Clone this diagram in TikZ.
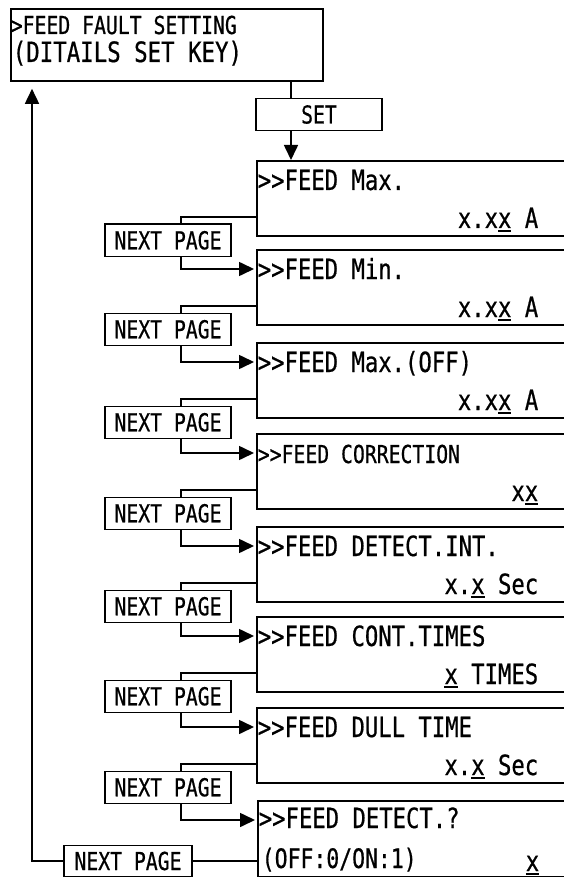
\documentclass[tikz,border=0pt]{standalone}
\usepackage{fontspec}
\newfontfamily\lcdfont[FakeStretch=0.8,FakeBold=0.6]{DejaVu Sans Mono}
\usetikzlibrary{arrows.meta,positioning,calc}
% underlined cursor digit
\newcommand\curs[1]{\setbox0\hbox{#1}\rlap{\rule[-4pt]{\wd0}{2pt}}\box0\relax}

\begin{document}
\begin{tikzpicture}[
  x=1pt,y=-1pt,
  line width=1.6pt,
  panel/.style={draw,line width=1.8pt,minimum width=312pt,minimum height=72pt,inner sep=0pt,anchor=north west},
  disp/.style={draw,line width=1.8pt,minimum width=330pt,minimum height=75pt,inner sep=0pt,anchor=north west},
  keybox/.style={draw,line width=1.6pt,minimum width=126pt,minimum height=32pt,inner sep=0pt,font=\lcdfont\fontsize{24.7pt}{26pt}\selectfont},
  dtxt/.style={font=\lcdfont\fontsize{27.8pt}{30pt}\selectfont,inner sep=0pt},
  stxt/.style={font=\lcdfont\fontsize{24.7pt}{26pt}\selectfont,inner sep=0pt},
  arr/.style={-{Triangle[length=15pt,width=14pt]},line width=1.6pt}
]
\clip (0,0) rectangle (564,877);
% ---------------- setting screen + SET key ----------------
\node[panel] (head) at (10,8) {};
\node[stxt,anchor=base west] (head1) at ([yshift=-26pt]head.north west) {>FEED FAULT SETTING};
\node[dtxt,font=\lcdfont\fontsize{28pt}{30pt}\selectfont,anchor=base west] (head2) at ([xshift=2pt,yshift=-54pt]head.north west) {(DITAILS SET KEY)};
\node[keybox] (set) at (319,114.5) {SET};
\coordinate (trunk) at (291,0);
\draw (head.south -| trunk) -- (set.north -| trunk);
% ---------------- detail screens ----------------
\foreach \i/\y/\fa/\ta/\tb in {
  1/160/dtxt/{>>FEED Max.}/{x.x\curs{x} A},
  2/249/dtxt/{>>FEED Min.}/{x.x\curs{x} A},
  3/342/dtxt/{>>FEED Max.(OFF)}/{x.x\curs{x} A},
  4/433/stxt/{>>FEED CORRECTION}/{x\curs{x}},
  5/526/dtxt/{>>FEED DETECT.INT.}/{x.\curs{x} Sec},
  6/616/dtxt/{>>FEED CONT.TIMES}/{\curs{x} TIMES},
  7/707/dtxt/{>>FEED DULL TIME}/{x.\curs{x} Sec}}{
  \node[disp] (d\i) at (256,\y) {};
  \node[\fa,anchor=base west] (d\i a) at ([xshift=1pt,yshift=-30pt]d\i.north west) {\ta};
  \node[dtxt,anchor=base east] (d\i b) at ([xshift=283pt,yshift=-68pt]d\i.north west) {\tb};
}
\node[disp,minimum height=76pt] (d8) at (257,800) {};
\node[dtxt,anchor=base west] (d8a) at ([xshift=1pt,yshift=-28pt]d8.north west) {>>FEED DETECT.?};
\node[dtxt,anchor=base west,font=\lcdfont\fontsize{26.8pt}{30pt}\selectfont] (d8b) at ([xshift=4pt,yshift=-68pt]d8.north west) {(OFF:0/ON:1)};
\node[dtxt,anchor=base east] (d8c) at ([xshift=283pt,yshift=-71pt]d8.north west) {\curs{x}};
\draw[arr] (set.south -| trunk) -- (d1.north -| trunk);
% ---------------- NEXT PAGE keys ----------------
\foreach \i in {1,...,7}{
  \pgfmathtruncatemacro\j{\i+1}
  \node[keybox] (np\i) at ([xshift=-88pt,yshift=-3.5pt]d\i.south west) {NEXT PAGE};
  \draw ([xshift=13pt]np\i.north) |- ([yshift=20pt]d\i.south west);
  \draw[arr,shorten >=2pt] ([xshift=13pt]np\i.south) |- ([yshift=-20pt]d\j.north west);
}
\node[keybox,minimum width=128pt,minimum height=31pt] (np8) at ([xshift=-129pt,yshift=-61pt]d8.north west) {NEXT PAGE};
\draw (np8.east) -- (np8.east -| d8.west);
\draw[arr,shorten >=7pt] (np8.west) -| ([xshift=22pt]head.south west);
\end{tikzpicture}
\end{document}
